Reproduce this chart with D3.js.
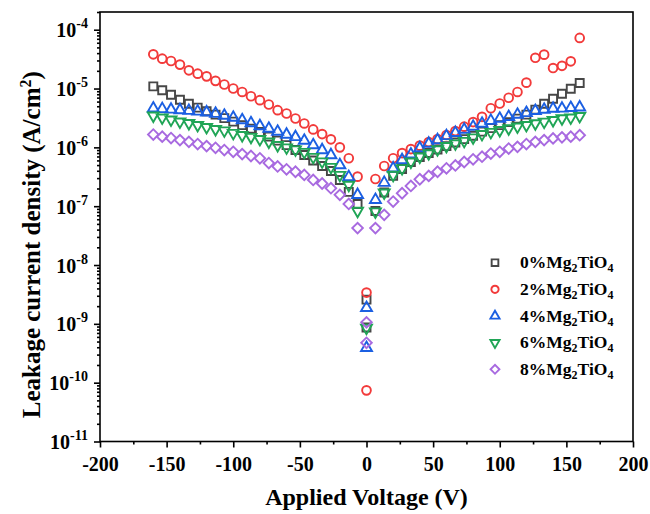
<!DOCTYPE html>
<html><head><meta charset="utf-8">
<script src="https://cdn.jsdelivr.net/npm/d3@7"></script>
<style>body{margin:0;background:#fff}svg{display:block}</style>
</head><body><svg id="c" width="650" height="514"></svg>
<script>
const voltages = [-160,-153.3,-146.7,-140,-133.3,-126.7,-120,-113.3,-106.7,-100,-93.3,-86.7,-80,-73.3,-66.7,-60,-53.3,-46.7,-40,-33.3,-26.7,-20,-13.3,-6.7,
  6.7,13.3,20,26.7,33.3,40,46.7,53.3,60,66.7,73.3,80,86.7,93.3,100,106.7,113.3,120,126.7,133.3,140,146.7,153.3,160];
const xTicks = [-200,-150,-100,-50,0,50,100,150,200];
const yTickExps = [-11,-10,-9,-8,-7,-6,-5,-4];
const labels = ["0", "2", "4", "6", "8"];

const j0 = [1.09e-5,9.35e-6,7.85e-6,6.46e-6,5.52e-6,4.73e-6,4.12e-6,3.60e-6,3.14e-6,2.74e-6,2.39e-6,2.08e-6,1.82e-6,1.52e-6,1.30e-6,1.09e-6,9.0e-7,7.40e-7,5.97e-7,4.82e-7,3.96e-7,2.79e-7,1.75e-7,1.09e-7,
  8.3e-8,1.71e-7,3.27e-7,4.29e-7,5.64e-7,6.85e-7,8.0e-7,9.18e-7,1.05e-6,1.21e-6,1.38e-6,1.58e-6,1.85e-6,2.12e-6,2.39e-6,2.69e-6,3.08e-6,3.60e-6,4.38e-6,5.52e-6,6.71e-6,8.17e-6,9.93e-6,1.24e-5];
const j0zero = [2.58e-9, 8.65e-10];

const j2 = [3.81e-5,3.22e-5,2.94e-5,2.55e-5,2.04e-5,1.79e-5,1.61e-5,1.35e-5,1.17e-5,1.00e-5,8.75e-6,7.40e-6,6.34e-6,5.36e-6,4.29e-6,3.77e-6,3.10e-6,2.55e-6,2.02e-6,1.68e-6,1.37e-6,1.00e-6,6.52e-7,3.18e-7,
  2.90e-7,4.82e-7,6.52e-7,8.0e-7,9.35e-7,1.07e-6,1.23e-6,1.38e-6,1.62e-6,1.89e-6,2.25e-6,2.69e-6,3.30e-6,4.63e-6,5.57e-6,6.98e-6,8.75e-6,1.26e-5,3.33e-5,3.77e-5,2.23e-5,2.43e-5,2.90e-5,7.26e-5];
const j2zero = [3.4e-9, 7.4e-11];

const j4 = [4.6e-6,4.5e-6,4.4e-6,4.3e-6,4.2e-6,4.08e-6,3.94e-6,3.74e-6,3.46e-6,3.20e-6,2.90e-6,2.58e-6,2.30e-6,2.08e-6,1.85e-6,1.65e-6,1.50e-6,1.30e-6,1.09e-6,9.0e-7,7.40e-7,5.01e-7,3.14e-7,1.56e-7,
  1.28e-7,2.51e-7,4.41e-7,6.10e-7,7.60e-7,9.72e-7,1.16e-6,1.33e-6,1.56e-6,1.77e-6,2.00e-6,2.25e-6,2.53e-6,2.84e-6,3.08e-6,3.30e-6,3.60e-6,3.85e-6,4.17e-6,4.38e-6,4.55e-6,4.58e-6,4.69e-6,4.80e-6];
const j4zero = [1.87e-9, 3.9e-10];

const j6 = [3.46e-6,3.20e-6,2.96e-6,2.74e-6,2.58e-6,2.39e-6,2.21e-6,2.04e-6,1.93e-6,1.75e-6,1.61e-6,1.50e-6,1.38e-6,1.25e-6,1.09e-6,9.93e-7,9.18e-7,8.32e-7,6.85e-7,5.74e-7,4.63e-7,3.39e-7,2.30e-7,8.3e-8,
  8.1e-8,1.70e-7,3.40e-7,4.41e-7,5.70e-7,6.93e-7,7.91e-7,9.25e-7,1.05e-6,1.16e-6,1.28e-6,1.47e-6,1.68e-6,1.82e-6,1.96e-6,2.10e-6,2.25e-6,2.39e-6,2.55e-6,2.72e-6,2.90e-6,3.10e-6,3.20e-6,3.40e-6];
const j6zero = [8.55e-10];

const j8 = [1.65e-6,1.52e-6,1.44e-6,1.33e-6,1.24e-6,1.14e-6,1.05e-6,9.84e-7,9.0e-7,8.41e-7,7.69e-7,7.13e-7,6.52e-7,5.42e-7,4.73e-7,4.24e-7,3.85e-7,3.40e-7,2.79e-7,2.43e-7,2.02e-7,1.56e-7,1.09e-7,4.24e-8,
  4.24e-8,7.13e-8,1.20e-7,1.66e-7,2.21e-7,2.87e-7,3.27e-7,3.85e-7,4.41e-7,4.92e-7,5.64e-7,6.27e-7,6.93e-7,7.85e-7,8.41e-7,9.55e-7,1.02e-6,1.14e-6,1.24e-6,1.33e-6,1.42e-6,1.48e-6,1.52e-6,1.61e-6];
const j8zero = [1.06e-9, 4.76e-10];

const colors = ["#474747", "#f23a3a", "#1b5fe2", "#20a556", "#a86ae0"];
const shapes = ["square", "circle", "triUp", "triDown", "diamond"];
const seriesVals = [j0, j2, j4, j6, j8];
const seriesZero = [j0zero, j2zero, j4zero, j6zero, j8zero];

const svg = d3.select("#c");
const L = 100, R = 633, T = 12, B = 441.5;
const x = d3.scaleLinear().domain([-200, 200]).range([L, R]);
const y = d3.scaleLog().domain([1e-11, 2e-4]).range([B, T]);
const font = "'Liberation Serif','Times New Roman',serif";

function symPath(shape, s) {
  const sc = s || 1;
  if (shape === "square") return d3.symbol(d3.symbolSquare, 64 * sc)();
  if (shape === "circle") return d3.symbol(d3.symbolCircle, 60 * sc)();
  if (shape === "triUp" || shape === "triDown") return d3.symbol(d3.symbolTriangle, 52 * sc)();
  return d3.symbol(d3.symbolSquare, 56 * sc)();
}
function symRot(shape) {
  if (shape === "triDown") return 180;
  if (shape === "diamond") return 45;
  return 0;
}

// data points
seriesVals.forEach((vals, i) => {
  const pts = voltages.map((v, k) => ({v: v, j: vals[k]}))
    .concat(seriesZero[i].map(j => ({v: 0, j: j})));
  svg.append("g").selectAll("path").data(pts).join("path")
    .attr("d", symPath(shapes[i]))
    .attr("transform", d => `translate(${x(d.v)},${y(d.j)}) rotate(${symRot(shapes[i])})`)
    .attr("fill", "none").attr("stroke", colors[i]).attr("stroke-width", 1.9);
});

// frame
svg.append("rect").attr("x", L).attr("y", T).attr("width", R - L).attr("height", B - T)
  .attr("fill", "none").attr("stroke", "#000").attr("stroke-width", 1.6);

// x axis
const xMinor = d3.range(-175, 200, 50);
const xa = svg.append("g").attr("transform", `translate(0,${B})`);
const xMaj = xa.append("g").call(d3.axisBottom(x).tickValues(xTicks).tickSize(6).tickPadding(9));
xa.append("g").call(d3.axisBottom(x).tickValues(xMinor).tickSize(3).tickFormat(""));
xa.selectAll(".domain").remove();
xa.selectAll("line").attr("stroke", "#000").attr("stroke-width", 1.6);
xMaj.selectAll("text").attr("font-family", font).attr("font-weight", "bold").attr("font-size", 20)
  .attr("fill", "#000").text(d => d < 0 ? "-" + Math.abs(d) : d);

// y axis
const yMajor = yTickExps.map(e => Math.pow(10, e));
const yMinor = [];
yTickExps.slice(0, -1).forEach(e => { for (let m = 2; m <= 9; m++) yMinor.push(m * Math.pow(10, e)); });
yMinor.push(2e-4);
const ya = svg.append("g").attr("transform", `translate(${L},0)`);
ya.append("g").call(d3.axisLeft(y).tickValues(yMajor).tickSize(6).tickFormat(""));
ya.append("g").call(d3.axisLeft(y).tickValues(yMinor).tickSize(3).tickFormat(""));
ya.selectAll(".domain").remove();
ya.selectAll("line").attr("stroke", "#000").attr("stroke-width", 1.6);
const yl = svg.append("g");
yTickExps.forEach((e, i) => {
  const t = yl.append("text").attr("x", 88).attr("y", y(yMajor[i]) + 7.5)
    .attr("text-anchor", "end").attr("font-family", font).attr("font-weight", "bold")
    .attr("font-size", 20).attr("fill", "#000");
  t.append("tspan").text("10");
  t.append("tspan").attr("dy", -9).attr("font-size", 14).text(e);
});

// axis titles
svg.append("text").attr("x", (L + R) / 2).attr("y", 505).attr("text-anchor", "middle")
  .attr("font-family", font).attr("font-weight", "bold").attr("font-size", 24).text("Applied Voltage (V)");
const yt = svg.append("text").attr("transform", `translate(40,${(T + B) / 2 + 18}) rotate(-90)`)
  .attr("text-anchor", "middle").attr("font-family", font).attr("font-weight", "bold").attr("font-size", 25);
yt.append("tspan").text("Leakage current density (A/cm");
yt.append("tspan").attr("dy", -9).attr("font-size", 16).text("2");
yt.append("tspan").attr("dy", 9).text(")");

// legend
const lg = svg.append("g");
labels.forEach((lab, i) => {
  const cy = 262.7 + i * 26.65;
  lg.append("path").attr("d", symPath(shapes[i], 0.7))
    .attr("transform", `translate(495,${cy}) rotate(${symRot(shapes[i])})`)
    .attr("fill", "none").attr("stroke", colors[i]).attr("stroke-width", 1.9);
  const t = lg.append("text").attr("x", 520).attr("y", cy + 5.5)
    .attr("font-family", font).attr("font-weight", "bold").attr("font-size", 17.5).attr("fill", "#000");
  t.append("tspan").text(lab + "%Mg");
  t.append("tspan").attr("dy", 4).attr("font-size", 12).text("2");
  t.append("tspan").attr("dy", -4).text("TiO");
  t.append("tspan").attr("dy", 4).attr("font-size", 12).text("4");
});
</script></body></html>
